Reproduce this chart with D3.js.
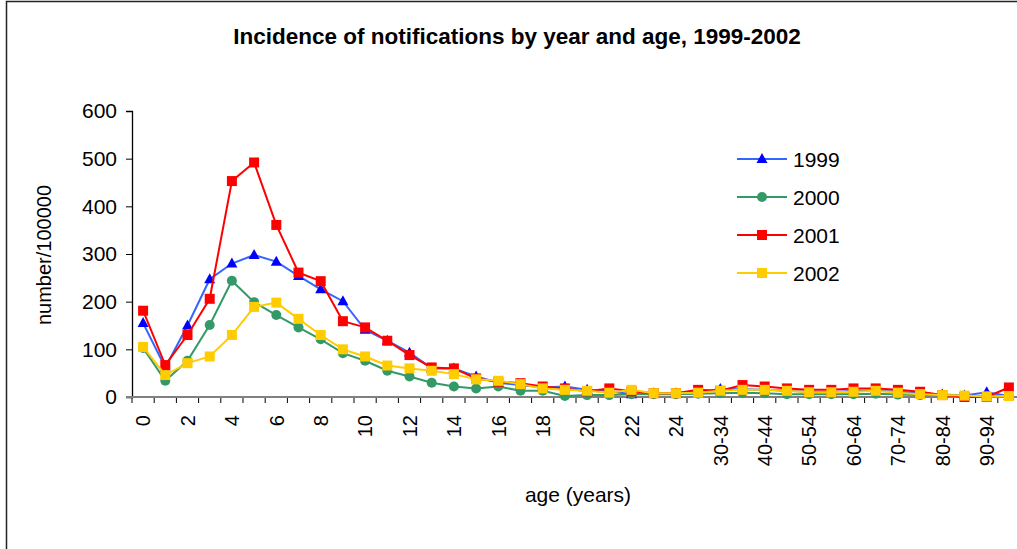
<!DOCTYPE html>
<html>
<head>
<meta charset="utf-8">
<script src="https://cdn.jsdelivr.net/npm/d3@7"></script>
<style>
  html, body { margin: 0; padding: 0; background: #fff; }
  svg { display: block; font-family: Arial, "Liberation Sans", sans-serif; }
</style>
</head>
<body>
<div id="chart"></div>
<script>
// Age groups (single years 0-24, then five-year bands)
const AGES = ['0','1','2','3','4','5','6','7','8','9','10','11','12','13','14','15','16','17','18','19',
  '20','21','22','23','24','25-29','30-34','35-39','40-44','45-49','50-54','55-59','60-64','65-69',
  '70-74','75-79','80-84','85-89','90-94','95+'];
const AGE_LABELS = ['0','2','4','6','8','10','12','14','16','18','20','22','24',
  '30-34','40-44','50-54','60-64','70-74','80-84','90-94'];
const Y_TICKS = [0, 100, 200, 300, 400, 500, 600];

const Y1999 = [155, 62, 150, 247, 280, 298, 284, 254, 226, 201, 141, 118, 93, 60, 60, 43, 30, 25, 20, 22,
  15, 12, 6, 8, 8, 10, 17, 16, 15, 13, 11, 10, 13, 13, 11, 8, 5, 3, 10, 2];
const Y2000 = [103, 34, 76, 151, 244, 199, 172, 146, 121, 92, 76, 55, 43, 30, 22, 18, 22, 13, 13, 2,
  4, 4, 6, 6, 6, 7, 8, 9, 8, 6, 6, 6, 6, 7, 5, 4, 4, 2, 2, 2];
const Y2001 = [181, 67, 130, 206, 453, 492, 361, 261, 243, 159, 146, 118, 88, 62, 60, 39, 32, 29, 22, 18,
  12, 18, 12, 8, 8, 15, 13, 25, 22, 18, 15, 15, 18, 18, 15, 11, 4, 0, 0, 20];
const Y2002 = [105, 46, 71, 85, 130, 189, 198, 164, 130, 100, 85, 66, 60, 55, 48, 37, 34, 27, 18, 15,
  13, 9, 15, 8, 8, 9, 13, 15, 15, 13, 10, 10, 11, 13, 9, 6, 4, 3, 1, 2];

const SERIES = [
  { name: '1999', values: Y1999, line: '#3366ff', fill: '#0000ff', shape: 'triangle' },
  { name: '2000', values: Y2000, line: '#339966', fill: '#339966', shape: 'circle' },
  { name: '2001', values: Y2001, line: '#ff0000', fill: '#ff0000', shape: 'square' },
  { name: '2002', values: Y2002, line: '#ffcc00', fill: '#ffcc00', shape: 'square' },
];

const W = 1017, H = 549;
const PLOT = { left: 132, right: 1020, top: 111, bottom: 397 };

const svg = d3.select('#chart').append('svg')
  .attr('width', W).attr('height', H);

svg.append('rect').attr('width', W).attr('height', H).attr('fill', '#fff');

// chart frame (left and top edges visible)
svg.append('path')
  .attr('d', `M6.5,${H} V1.5 H${W}`)
  .attr('fill', 'none').attr('stroke', '#222').attr('stroke-width', 1.5);

const x = d3.scaleBand().domain(AGES).range([PLOT.left, PLOT.right]).padding(0);
const y = d3.scaleLinear().domain([0, 600]).range([PLOT.bottom, PLOT.top]);
const cx = d => x(d) + x.bandwidth() / 2;

// y axis
const yAxis = svg.append('g')
  .attr('transform', `translate(${PLOT.left},0)`)
  .call(d3.axisLeft(y).tickValues(Y_TICKS).tickSize(6).tickPadding(9).tickFormat(d3.format('d')));
yAxis.select('.domain').attr('stroke', '#000').attr('stroke-width', 1.3);
yAxis.selectAll('.tick line').attr('stroke', '#000');
yAxis.selectAll('text').style('font-size', '21px').attr('fill', '#000');

// x axis: tick marks at category boundaries, labels at every other category
const xg = svg.append('g').attr('transform', `translate(0,${PLOT.bottom})`);
xg.selectAll('line.bound')
  .data(AGES.map(a => x(a)).concat([PLOT.right]))
  .join('line')
  .attr('class', 'bound')
  .attr('x1', d => d).attr('x2', d => d)
  .attr('y1', 0).attr('y2', 6)
  .attr('stroke', '#000').attr('stroke-width', 1);
xg.append('line')
  .attr('x1', PLOT.left - 6).attr('x2', PLOT.right)
  .attr('y1', 0).attr('y2', 0)
  .attr('stroke', '#808080').attr('stroke-width', 2);
xg.selectAll('text.lab')
  .data(AGE_LABELS)
  .join('text')
  .attr('class', 'lab')
  .attr('transform', d => `translate(${cx(d)},18) rotate(-90)`)
  .attr('dy', '0.36em')
  .attr('text-anchor', 'end')
  .style('font-size', '20px')
  .text(d => d);

// lines and markers
const line = d3.line()
  .x((d, i) => cx(AGES[i]))
  .y(d => y(d));

SERIES.forEach(s => {
  const g = svg.append('g');
  g.append('path')
    .datum(s.values)
    .attr('fill', 'none')
    .attr('stroke', s.line)
    .attr('stroke-width', 2)
    .attr('d', line);
  drawMarkers(g, s, s.values.map((v, i) => [cx(AGES[i]), y(v)]));
});

function drawMarkers(g, s, pts) {
  if (s.shape === 'circle') {
    g.selectAll('circle').data(pts).join('circle')
      .attr('cx', d => d[0]).attr('cy', d => d[1]).attr('r', 5)
      .attr('fill', s.fill);
  } else if (s.shape === 'square') {
    g.selectAll('rect').data(pts).join('rect')
      .attr('x', d => d[0] - 5).attr('y', d => d[1] - 5)
      .attr('width', 10).attr('height', 10)
      .attr('fill', s.fill);
  } else {
    g.selectAll('path.tri').data(pts).join('path')
      .attr('class', 'tri')
      .attr('d', d => `M${d[0]},${d[1] - 6} L${d[0] + 5.5},${d[1] + 4} L${d[0] - 5.5},${d[1] + 4} Z`)
      .attr('fill', s.fill);
  }
}

// legend
const legend = svg.append('g').attr('transform', 'translate(737,159)');
SERIES.forEach((s, i) => {
  const lg = legend.append('g').attr('transform', `translate(0,${i * 38})`);
  lg.append('line')
    .attr('x1', 0).attr('x2', 50).attr('y1', 0).attr('y2', 0)
    .attr('stroke', s.line).attr('stroke-width', 2);
  drawMarkers(lg, s, [[25, 0]]);
  lg.append('text')
    .attr('x', 56).attr('y', 0).attr('dy', '0.36em')
    .style('font-size', '21px')
    .text(s.name);
});

// titles
svg.append('text')
  .attr('x', 517).attr('y', 44)
  .attr('text-anchor', 'middle')
  .style('font-size', '22.5px').style('font-weight', 'bold')
  .text('Incidence of notifications by year and age, 1999-2002');

svg.append('text')
  .attr('transform', 'translate(51,255) rotate(-90)')
  .attr('text-anchor', 'middle')
  .style('font-size', '20px')
  .text('number/100000');

svg.append('text')
  .attr('x', 578).attr('y', 502)
  .attr('text-anchor', 'middle')
  .style('font-size', '21px')
  .text('age (years)');
</script>
</body>
</html>
